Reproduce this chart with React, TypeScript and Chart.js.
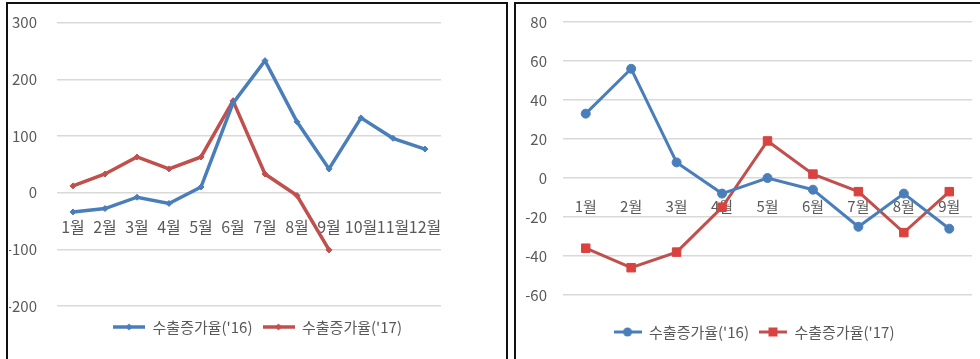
import React, { useEffect, useRef } from "react";
import { Chart, registerables } from "chart.js";

Chart.register(...registerables);
Chart.defaults.font.family = "'Noto Sans CJK KR', 'Noto Sans', sans-serif";

// ---------- data ----------
const leftMonths = ["1월", "2월", "3월", "4월", "5월", "6월", "7월", "8월", "9월", "10월", "11월", "12월"];
const left2016 = [-34, -28, -8, -19, 10, 158, 233, 125, 42, 132, 96, 77];
const left2017 = [12, 33, 63, 42, 63, 162, 33, -5, -101, null, null, null];
const leftYTicks = [-200, -100, 0, 100, 200, 300];

const rightMonths = ["1월", "2월", "3월", "4월", "5월", "6월", "7월", "8월", "9월"];
const right2016 = [33, 56, 8, -8, 0, -6, -25, -8, -26];
const right2017 = [-36, -46, -38, -15, 19, 2, -7, -28, -7];
const rightYTicks = [-60, -40, -20, 0, 20, 40, 60, 80];

const seriesNames = ["수출증가율('16)", "수출증가율('17)"];

// ---------- styles ----------
const BLUE = "#4A7EBB";
const RED = "#C0504D";
const RED_MARK = "#D9423F";
const GRID = "#D9D9D9";
const TEXT = "#595959";

function makeGlyph(color: string, fill: string, marker: string, width: number, lineWidth: number, size: number) {
  const c = document.createElement("canvas");
  c.width = width;
  c.height = 14;
  const ctx = c.getContext("2d")!;
  ctx.strokeStyle = color;
  ctx.lineWidth = lineWidth;
  ctx.beginPath();
  ctx.moveTo(0, 7);
  ctx.lineTo(width, 7);
  ctx.stroke();
  ctx.fillStyle = fill;
  const cx = width / 2;
  ctx.beginPath();
  if (marker === "circle") {
    ctx.arc(cx, 7, size, 0, Math.PI * 2);
  } else if (marker === "square") {
    ctx.rect(cx - size, 7 - size, size * 2, size * 2);
  } else {
    ctx.moveTo(cx, 7 - size);
    ctx.lineTo(cx + size, 7);
    ctx.lineTo(cx, 7 + size);
    ctx.lineTo(cx - size, 7);
    ctx.closePath();
  }
  ctx.fill();
  return c;
}

type Cfg = {
  labels: string[];
  s16: (number | null)[];
  s17: (number | null)[];
  yTicks: number[];
  right: boolean;
};

function buildConfig(p: Cfg): any {
  const r = p.right;
  const glyphs = r
    ? [makeGlyph(BLUE, BLUE, "circle", 28, 3, 4.5), makeGlyph(RED, RED_MARK, "square", 28, 3, 4.5)]
    : [makeGlyph(BLUE, BLUE, "diamond", 32, 3.5, 3.5), makeGlyph(RED, RED, "diamond", 32, 3.5, 3.5)];
  const yw = r ? 46 : 48;
  const rightGap = r ? 19 : 65;
  return {
    type: "line",
    data: {
      labels: p.labels,
      datasets: [
        {
          label: seriesNames[0],
          data: p.s16,
          xAxisID: "x",
          yAxisID: "y",
          borderColor: BLUE,
          backgroundColor: BLUE,
          borderWidth: r ? 3 : 3.5,
          pointStyle: r ? "circle" : "rectRot",
          pointRadius: r ? 4.5 : 3,
          pointBorderWidth: 1,
          tension: 0,
        },
        {
          label: seriesNames[1],
          data: p.s17,
          xAxisID: "x",
          yAxisID: "y",
          borderColor: RED,
          backgroundColor: r ? RED_MARK : RED,
          pointBorderColor: r ? RED_MARK : RED,
          borderWidth: r ? 3 : 3.5,
          pointStyle: r ? "rect" : "rectRot",
          pointRadius: r ? 6 : 3,
          pointBorderWidth: 1,
          tension: 0,
        },
      ],
    },
    options: {
      responsive: false,
      animation: false,
      layout: { padding: { top: r ? 17 : 17.7, right: 0, bottom: r ? 9.5 : 14.5, left: 0 } },
      scales: {
        x: {
          type: "category",
          position: { y: 0 },
          offset: true,
          grid: { display: false, drawTicks: false },
          border: { display: false },
          ticks: {
            autoSkip: false,
            maxRotation: 0,
            minRotation: 0,
            padding: r ? 19.5 : 25,
            color: TEXT,
            font: { size: r ? 15 : 16 },
          },
        },
        y: {
          min: p.yTicks[0],
          max: p.yTicks[p.yTicks.length - 1],
          afterFit: (s: any) => {
            s.width = yw;
          },
          grid: {
            color: GRID,
            lineWidth: 1.5,
            drawTicks: true,
            tickLength: r ? 16 : 20,
            tickColor: "rgba(0,0,0,0)",
          },
          border: { display: false },
          ticks: {
            stepSize: p.yTicks[1] - p.yTicks[0],
            padding: 0,
            color: TEXT,
            font: { size: 15 },
          },
        },
        gapRight: {
          type: "linear",
          axis: "y",
          position: "right",
          grid: { display: false, drawTicks: false },
          border: { display: false },
          ticks: { display: false },
          afterFit: (s: any) => {
            s.width = rightGap;
          },
        },
      },
      plugins: {
        tooltip: { enabled: false },
        legend: {
          position: "bottom",
          title: { display: true, text: "", font: { size: 1 }, padding: { top: r ? 18.3 : 2.3, bottom: 0 } },
          labels: {
            usePointStyle: true,
            pointStyleWidth: r ? 28 : 32,
            color: TEXT,
            font: { size: 15 },
            padding: 10,
            generateLabels: (chart: any) => {
              const items = (Chart.defaults as any).plugins.legend.labels.generateLabels(chart);
              return items.map((it: any, i: number) => ({ ...it, pointStyle: glyphs[i] }));
            },
          },
        },
      },
    },
  };
}

function LineCanvas(props: { cfg: Cfg; left: number; top: number; width: number; height: number }) {
  const ref = useRef<HTMLCanvasElement>(null);
  useEffect(() => {
    const chart = new Chart(ref.current!, buildConfig(props.cfg));
    return () => chart.destroy();
  }, []);
  return (
    <canvas
      ref={ref}
      width={props.width}
      height={props.height}
      style={{ position: "absolute", left: props.left, top: props.top, width: props.width, height: props.height }}
    />
  );
}

export default function App() {
  return (
    <div style={{ position: "absolute", left: 0, top: 0, width: 980, height: 359, overflow: "hidden", background: "#fff" }}>
      <div
        style={{
          position: "absolute",
          left: 6,
          top: 2,
          width: 498,
          height: 370,
          border: "2px solid #111",
        }}
      />
      <div
        style={{
          position: "absolute",
          left: 514,
          top: 2,
          width: 500,
          height: 370,
          border: "2px solid #111",
        }}
      />
      <LineCanvas
        cfg={{ labels: leftMonths, s16: left2016, s17: left2017, yTicks: leftYTicks, right: false }}
        left={9}
        top={5}
        width={497}
        height={354}
      />
      <LineCanvas
        cfg={{ labels: rightMonths, s16: right2016, s17: right2017, yTicks: rightYTicks, right: true }}
        left={517}
        top={5}
        width={474}
        height={354}
      />
    </div>
  );
}
